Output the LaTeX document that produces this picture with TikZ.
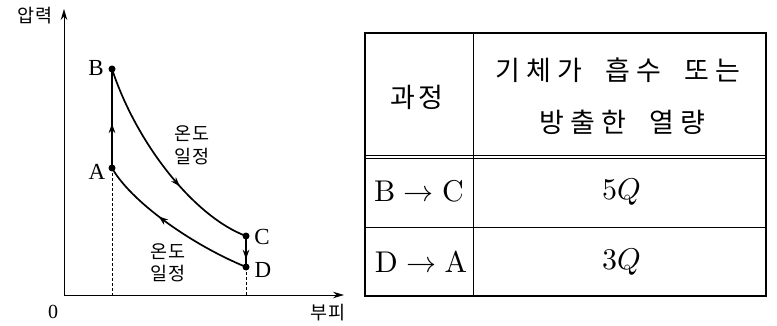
\documentclass[tikz,border=0pt]{standalone}
\usepackage{fontspec}
\usepackage{unicode-math}
\setmathfont{Latin Modern Math}
\newfontfamily\kr{Noto Sans CJK KR}
\newfontfamily\tms{Liberation Serif}
\newfontfamily\lmten{lmroman10-regular}[Extension=.otf]
\usetikzlibrary{arrows.meta,decorations.markings}
\tikzset{
  midarr/.style={postaction={decorate,decoration={markings,
      mark=at position #1 with {\arrow{Stealth[length=9.5pt,width=6.5pt]}}}}},
  dotnode/.style={circle,fill=black,inner sep=0pt,minimum size=7pt},
  curveline/.style={line width=1.7pt},
  axisline/.style={line width=1pt,-{Stealth[length=11pt,width=6.5pt]}},
  guide/.style={line width=0.7pt,dash pattern=on 3pt off 2pt},
  ptlabel/.style={font=\tms\fontsize{23}{23}\selectfont,inner sep=0pt},
  krlabel/.style={font=\kr\fontsize{18.5}{22}\selectfont,inner sep=0pt},
  tabline/.style={line width=1.3pt},
  cellmath/.style={font=\lmten\fontsize{30}{30}\selectfont,inner sep=0pt},
  cellkr/.style={font=\kr\fontsize{27}{27}\selectfont,inner sep=0pt}
}
\newcommand{\cb}[1]{\makebox[31pt]{#1}}
\newcommand{\cc}[1]{\makebox[27.5pt]{#1}}
\newcommand{\wsp}{\hspace{17pt}}
\begin{document}
\begin{tikzpicture}[x=1pt,y=-1pt]
\useasboundingbox (0,0) rectangle (777,326);
% axes
\coordinate (O) at (64,295);
\coordinate (Ytop) at (64,9);
\coordinate (Xend) at (344,295);
\draw[axisline] (O) -- (Ytop);
\draw[axisline] (O) -- (Xend);
\node[krlabel] (ylab) at (35,16) {압력};
\node[krlabel] (xlab) at (328,313) {부피};
\node[ptlabel,font=\tms\fontsize{20}{20}\selectfont] (zero) at (53,312) {0};
% state points
\node[dotnode] (A) at (112,168) {};
\node[dotnode] (B) at (112,69) {};
\node[dotnode] (C) at (246,236) {};
\node[dotnode] (D) at (246,267) {};
\coordinate (Ab) at (112,295);
\coordinate (Db) at (246,295);
\draw[guide] (A.center) -- (Ab);
\draw[guide] (D.center) -- (Db);
% processes
\draw[curveline,midarr=0.45] (A.center) -- (B.center);
\draw[curveline,midarr=0.62] (B.center) .. controls (137,145) and (195,217) .. (C.center);
\draw[curveline,midarr=0.75] (C.center) -- (D.center);
\draw[curveline,midarr=0.6] (D.center) .. controls (188,243) and (130,200) .. (A.center);
% labels
\node[ptlabel] (Alab) at (97,172) {A};
\node[ptlabel] (Blab) at (96,68) {B};
\node[ptlabel] (Clab) at (262,237) {C};
\node[ptlabel] (Dlab) at (263,269.5) {D};
\node[krlabel] (iso1a) at (192,134) {온도};
\node[krlabel] (iso1b) at (192,157) {일정};
\node[krlabel] (iso2a) at (168,252) {온도};
\node[krlabel] (iso2b) at (168,274) {일정};
% table
\draw[tabline] (365,33) rectangle (766,296);
\draw[line width=1pt] (473,33) -- (473,296);
\draw[line width=1pt] (365,155.7) -- (766,155.7);
\draw[line width=1pt] (365,159) -- (766,159);
\draw[line width=1pt] (365,227) -- (766,227);
\node[cellkr] (h1) at (417,97) {\cc{과}\cc{정}};
\node[cellkr] (h2a) at (618,70) {\cb{기}\cb{체}\cb{가}\wsp\cb{흡}\cb{수}\wsp\cb{또}\cb{는}};
\node[cellkr] (h2b) at (622,122) {\cb{방}\cb{출}\cb{한}\wsp\cb{열}\cb{량}};
\node[cellmath] (r1a) at (419,191.5) {B$\;\rightarrow\;$C};
\node[cellmath] (r1b) at (622,192) {$5Q$};
\node[cellmath] (r2a) at (421,262) {D$\;\rightarrow\;$A};
\node[cellmath] (r2b) at (622,262) {$3Q$};
\end{tikzpicture}
\end{document}
